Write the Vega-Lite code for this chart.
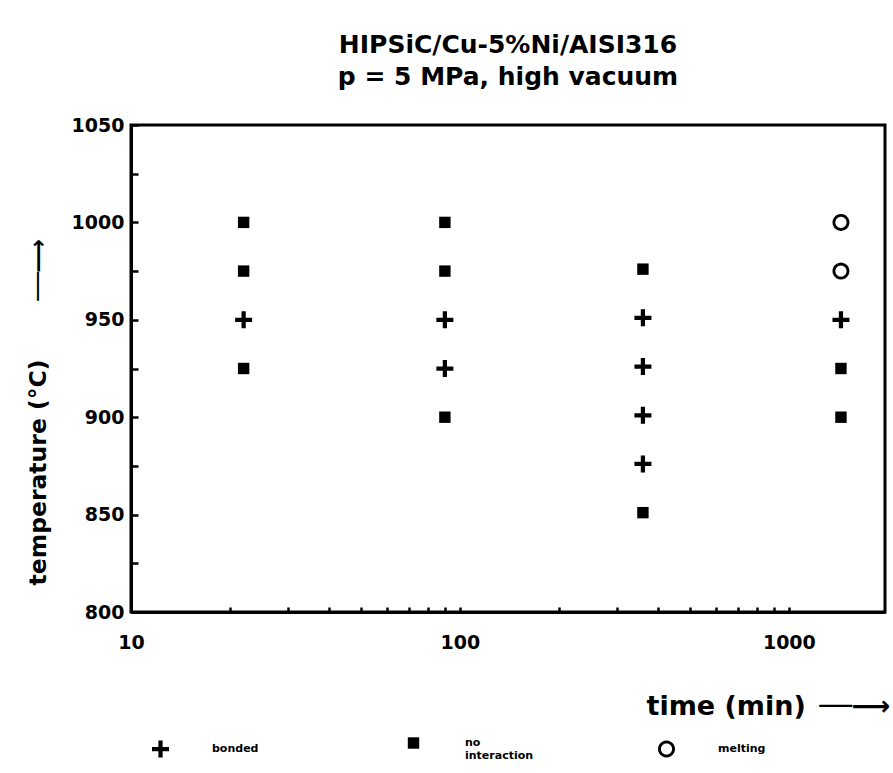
{
  "$schema": "https://vega.github.io/schema/vega-lite/v6.json",
  "width": 754,
  "height": 487,
  "autosize": {"type": "none"},
  "padding": {"left": 131, "top": 125, "right": 8, "bottom": 161},
  "background": "white",
  "title": {
    "text": ["HIPSiC/Cu-5%Ni/AISI316", "p  =  5  MPa,  high  vacuum"],
    "font": "DejaVu Sans",
    "fontSize": 25,
    "fontWeight": "bold",
    "lineHeight": 32,
    "anchor": "middle",
    "offset": 26,
    "color": "black"
  },
  "config": {
    "view": {"stroke": "black", "strokeWidth": 3},
    "axis": {
      "domainColor": "black",
      "domainWidth": 3,
      "tickColor": "black",
      "tickWidth": 2.5,
      "grid": false,
      "labelFont": "DejaVu Sans",
      "labelFontWeight": "bold",
      "labelFontSize": 19,
      "labelColor": "black",
      "titleFont": "DejaVu Sans",
      "titleColor": "black"
    }
  },
  "data": {
    "values": [
      {"time": 22, "temp": 1000, "type": "no interaction"},
      {"time": 22, "temp": 975, "type": "no interaction"},
      {"time": 22, "temp": 950, "type": "bonded"},
      {"time": 22, "temp": 925, "type": "no interaction"},
      {"time": 90, "temp": 1000, "type": "no interaction"},
      {"time": 90, "temp": 975, "type": "no interaction"},
      {"time": 90, "temp": 950, "type": "bonded"},
      {"time": 90, "temp": 925, "type": "bonded"},
      {"time": 90, "temp": 900, "type": "no interaction"},
      {"time": 360, "temp": 976, "type": "no interaction"},
      {"time": 360, "temp": 951, "type": "bonded"},
      {"time": 360, "temp": 926, "type": "bonded"},
      {"time": 360, "temp": 901, "type": "bonded"},
      {"time": 360, "temp": 876, "type": "bonded"},
      {"time": 360, "temp": 851, "type": "no interaction"},
      {"time": 1440, "temp": 1000, "type": "melting"},
      {"time": 1440, "temp": 975, "type": "melting"},
      {"time": 1440, "temp": 950, "type": "bonded"},
      {"time": 1440, "temp": 925, "type": "no interaction"},
      {"time": 1440, "temp": 900, "type": "no interaction"}
    ]
  },
  "mark": {"type": "point", "filled": true, "opacity": 1, "strokeWidth": 0},
  "encoding": {
    "x": {
      "field": "time",
      "type": "quantitative",
      "scale": {"type": "log", "domain": [10, 1960], "nice": false},
      "axis": {
        "values": [10, 20, 30, 40, 50, 60, 70, 80, 90, 100, 200, 300, 400, 500, 600, 700, 800, 900, 1000],
        "labelExpr": "datum.value == 10 || datum.value == 100 || datum.value == 1000 ? datum.value : ''",
        "tickSize": -5,
        "labelPadding": 26,
        "labelFlush": false,
        "title": "time (min)\u2002\u2500\u2500\u27F6",
        "titleFontSize": 27,
        "titleFontWeight": "bold",
        "titleAnchor": "end",
        "titleAlign": "right",
        "titleX": 759,
        "titleY": 102,
        "titleBaseline": "alphabetic"
      }
    },
    "y": {
      "field": "temp",
      "type": "quantitative",
      "scale": {"domain": [800, 1050], "nice": false, "zero": false},
      "axis": {
        "values": [800, 825, 850, 875, 900, 925, 950, 975, 1000, 1025, 1050],
        "labelExpr": "datum.value % 50 == 0 ? datum.value : ''",
        "tickSize": -7,
        "labelPadding": 14,
        "labelFlush": false,
        "title": "temperature (°C)\u2003\u2003\u2002\u2500\u2500\u27F6",
        "titleFontSize": 23.5,
        "titleFontWeight": "bold",
        "titleAngle": -90,
        "titleAlign": "left",
        "titleBaseline": "middle",
        "titleX": -93,
        "titleY": 460
      }
    },
    "shape": {
      "field": "type",
      "type": "nominal",
      "scale": {
        "domain": ["bonded", "no interaction", "melting"],
        "range": [
          "M-1,-0.25H1V0.25H-1ZM-0.25,-1H0.25V1H-0.25Z",
          "square",
          "M1,0L0.966,0.259L0.866,0.5L0.707,0.707L0.5,0.866L0.259,0.966L0,1L-0.259,0.966L-0.5,0.866L-0.707,0.707L-0.866,0.5L-0.966,0.259L-1,0L-0.966,-0.259L-0.866,-0.5L-0.707,-0.707L-0.5,-0.866L-0.259,-0.966L0,-1L0.259,-0.966L0.5,-0.866L0.707,-0.707L0.866,-0.5L0.966,-0.259ZM0.66,0L0.638,-0.171L0.572,-0.33L0.467,-0.467L0.33,-0.572L0.171,-0.638L0,-0.66L-0.171,-0.638L-0.33,-0.572L-0.467,-0.467L-0.572,-0.33L-0.638,-0.171L-0.66,0L-0.638,0.171L-0.572,0.33L-0.467,0.467L-0.33,0.572L-0.171,0.638L0,0.66L0.171,0.638L0.33,0.572L0.467,0.467L0.572,0.33L0.638,0.171Z"
        ]
      },
      "legend": {
        "title": null,
        "orient": "none",
        "legendX": 21,
        "legendY": 612,
        "direction": "horizontal",
        "columns": 3,
        "gridAlign": "all",
        "columnPadding": 124,
        "labelOffset": 43,
        "labelFont": "DejaVu Sans",
        "labelFontWeight": "bold",
        "labelFontSize": 11,
        "labelColor": "black",
        "labelExpr": "datum.label == 'no interaction' ? ['no', 'interaction'] : datum.label",
        "symbolStrokeWidth": 0
      }
    },
    "color": {
      "field": "type",
      "type": "nominal",
      "scale": {"domain": ["bonded", "no interaction", "melting"], "range": ["black", "black", "black"]}
    },
    "size": {
      "field": "type",
      "type": "nominal",
      "scale": {"type": "ordinal", "domain": ["bonded", "no interaction", "melting"], "range": [289, 130, 289]}
    }
  }
}
